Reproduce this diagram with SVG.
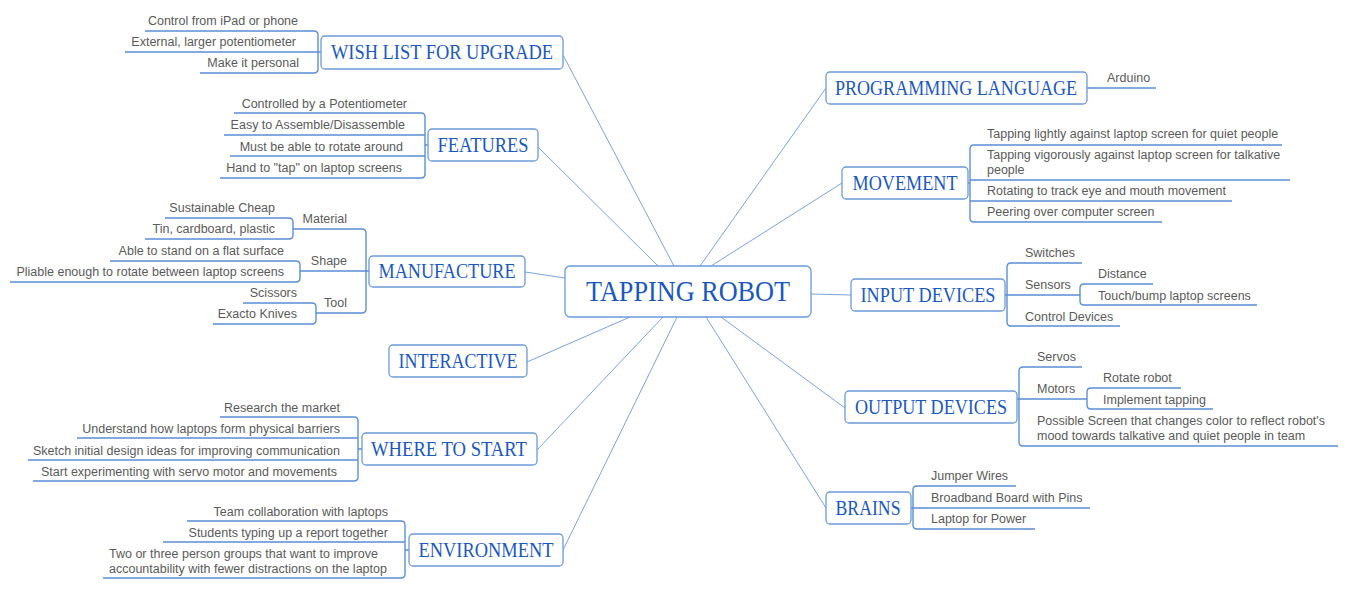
<svg xmlns="http://www.w3.org/2000/svg" width="1348" height="590" viewBox="0 0 1348 590">
<style>
.bg{fill:#ffffff}
.box{fill:#ffffff;stroke:#6b9bd9;stroke-width:1.3}
.topic{font-family:"Liberation Serif","Times New Roman",serif;font-size:20px;fill:#1a58c0;text-anchor:middle}
.central{font-family:"Liberation Serif","Times New Roman",serif;font-size:29px;fill:#1a58c0;text-anchor:middle}
.t{font-family:"Liberation Sans",Arial,sans-serif;font-size:12.5px;fill:#5a5a5a}
.r{text-anchor:end}
.u{fill:none;stroke:#5b8fd6;stroke-width:1.4}
.c{fill:none;stroke:#7aa3de;stroke-width:1}
</style>
<rect class="bg" x="0" y="0" width="1348" height="590"/>
<g id="connectors">
<line class="c" x1="563" y1="55" x2="674" y2="266"/>
<line class="c" x1="538" y1="147" x2="658" y2="266"/>
<line class="c" x1="525" y1="272" x2="565" y2="278"/>
<line class="c" x1="527" y1="362" x2="630" y2="317"/>
<line class="c" x1="537" y1="450" x2="663" y2="317"/>
<line class="c" x1="563" y1="550" x2="677" y2="317"/>
<line class="c" x1="826" y1="88" x2="700" y2="266"/>
<line class="c" x1="842" y1="183" x2="711" y2="266"/>
<line class="c" x1="811" y1="294" x2="851" y2="295"/>
<line class="c" x1="845" y1="408" x2="721" y2="317"/>
<line class="c" x1="826" y1="508" x2="706" y2="317"/>
</g>
<g id="central">
<rect class="box" x="565" y="266" width="246" height="51" rx="5"/>
<text class="central" x="688" y="301" textLength="204" lengthAdjust="spacingAndGlyphs">TAPPING ROBOT</text>
</g>
<g id="wishlist">
<path class="u" d="M145,31 H314 Q318,31 318,35 V69 Q318,73 314,73 H200 M125,52 H321"/>
<rect class="box" x="321" y="36" width="242" height="33" rx="4"/>
<text class="topic" x="442" y="59" textLength="222" lengthAdjust="spacingAndGlyphs">WISH LIST FOR UPGRADE</text>
<text class="t r" x="298" y="25">Control from iPad or phone</text>
<text class="t r" x="296" y="46">External, larger potentiometer</text>
<text class="t r" x="299" y="67">Make it personal</text>
</g>
<g id="features">
<path class="u" d="M234,113 H421 Q425,113 425,117 V174 Q425,178 421,178 H220 M224,135 H425 M230,156 H425 M425,145 H428"/>
<rect class="box" x="428" y="129" width="110" height="32" rx="4"/>
<text class="topic" x="483" y="152" textLength="91" lengthAdjust="spacingAndGlyphs">FEATURES</text>
<text class="t r" x="407" y="108">Controlled by a Potentiometer</text>
<text class="t r" x="405" y="129">Easy to Assemble/Disassemble</text>
<text class="t r" x="403" y="151">Must be able to rotate around</text>
<text class="t r" x="402" y="172">Hand to "tap" on laptop screens</text>
</g>
<g id="manufacture">
<path class="u" d="M293,229 H362 Q366,229 366,233 V309 Q366,313 362,313 H316 M300,271 H369"/>
<path class="u" d="M165,218 H289 Q293,218 293,222 V235 Q293,239 289,239 H145"/>
<path class="u" d="M110,261 H296 Q300,261 300,265 V278 Q300,282 296,282 H10"/>
<path class="u" d="M243,303 H312 Q316,303 316,307 V320 Q316,324 312,324 H213"/>
<rect class="box" x="369" y="256" width="156" height="31" rx="4"/>
<text class="topic" x="447" y="278" textLength="137" lengthAdjust="spacingAndGlyphs">MANUFACTURE</text>
<text class="t r" x="347" y="223">Material</text>
<text class="t r" x="347" y="265">Shape</text>
<text class="t r" x="347" y="307">Tool</text>
<text class="t r" x="275" y="212">Sustainable Cheap</text>
<text class="t r" x="275" y="233">Tin, cardboard, plastic</text>
<text class="t r" x="284" y="255">Able to stand on a flat surface</text>
<text class="t r" x="284" y="276">Pliable enough to rotate between laptop screens</text>
<text class="t r" x="297" y="297">Scissors</text>
<text class="t r" x="297" y="318">Exacto Knives</text>
</g>
<g id="interactive">
<rect class="box" x="389" y="345" width="138" height="32" rx="4"/>
<text class="topic" x="458" y="368" textLength="119" lengthAdjust="spacingAndGlyphs">INTERACTIVE</text>
</g>
<g id="wheretostart">
<path class="u" d="M220,417 H354 Q358,417 358,421 V477 Q358,481 354,481 H33 M77,438 H358 M28,460 H358 M358,449 H362"/>
<rect class="box" x="362" y="433" width="175" height="32" rx="4"/>
<text class="topic" x="449" y="456" textLength="156" lengthAdjust="spacingAndGlyphs">WHERE TO START</text>
<text class="t r" x="340" y="412">Research the market</text>
<text class="t r" x="340" y="433">Understand how laptops form physical barriers</text>
<text class="t r" x="340" y="455">Sketch initial design ideas for improving communication</text>
<text class="t r" x="337" y="476">Start experimenting with servo motor and movements</text>
</g>
<g id="environment">
<path class="u" d="M187,521 H401 Q405,521 405,525 V574 Q405,578 401,578 H103 M163,542 H405 M405,550 H409"/>
<rect class="box" x="409" y="534" width="154" height="32" rx="4"/>
<text class="topic" x="486" y="557" textLength="135" lengthAdjust="spacingAndGlyphs">ENVIRONMENT</text>
<text class="t r" x="388" y="516">Team collaboration with laptops</text>
<text class="t r" x="388" y="537">Students typing up a report together</text>
<text class="t" x="109" y="558">Two or three person groups that want to improve</text>
<text class="t" x="109" y="573">accountability with fewer distractions on the laptop</text>
</g>
<g id="programming">
<path class="u" d="M1087,88 H1156"/>
<rect class="box" x="826" y="72" width="261" height="32" rx="4"/>
<text class="topic" x="956" y="95" textLength="242" lengthAdjust="spacingAndGlyphs">PROGRAMMING LANGUAGE</text>
<text class="t" x="1107" y="82">Arduino</text>
</g>
<g id="movement">
<path class="u" d="M1282,145 H974 Q970,145 970,149 V218 Q970,222 974,222 H1162 M970,180 H1290 M970,201 H1232 M968,183 H970"/>
<rect class="box" x="842" y="167" width="126" height="32" rx="4"/>
<text class="topic" x="905" y="190" textLength="105" lengthAdjust="spacingAndGlyphs">MOVEMENT</text>
<text class="t" x="987" y="138">Tapping lightly against laptop screen for quiet people</text>
<text class="t" x="987" y="159">Tapping vigorously against laptop screen for talkative</text>
<text class="t" x="987" y="174">people</text>
<text class="t" x="987" y="195">Rotating to track eye and mouth movement</text>
<text class="t" x="987" y="216">Peering over computer screen</text>
</g>
<g id="input">
<path class="u" d="M1082,263 H1011 Q1007,263 1007,267 V322 Q1007,326 1011,326 H1120 M1005,295 H1080"/>
<path class="u" d="M1153,284 H1084 Q1080,284 1080,288 V301 Q1080,305 1084,305 H1257"/>
<rect class="box" x="851" y="279" width="154" height="32" rx="4"/>
<text class="topic" x="928" y="302" textLength="135" lengthAdjust="spacingAndGlyphs">INPUT DEVICES</text>
<text class="t" x="1025" y="257">Switches</text>
<text class="t" x="1025" y="289">Sensors</text>
<text class="t" x="1025" y="321">Control Devices</text>
<text class="t" x="1098" y="278">Distance</text>
<text class="t" x="1098" y="300">Touch/bump laptop screens</text>
</g>
<g id="output">
<path class="u" d="M1082,367 H1023 Q1019,367 1019,371 V442 Q1019,446 1023,446 H1338 M1017,399 H1087"/>
<path class="u" d="M1181,388 H1091 Q1087,388 1087,392 V405 Q1087,409 1091,409 H1213"/>
<rect class="box" x="845" y="391" width="172" height="32" rx="4"/>
<text class="topic" x="931" y="414" textLength="152" lengthAdjust="spacingAndGlyphs">OUTPUT DEVICES</text>
<text class="t" x="1037" y="361">Servos</text>
<text class="t" x="1037" y="393">Motors</text>
<text class="t" x="1103" y="382">Rotate robot</text>
<text class="t" x="1103" y="404">Implement tapping</text>
<text class="t" x="1037" y="425">Possible Screen that changes color to reflect robot's</text>
<text class="t" x="1037" y="440">mood towards talkative and quiet people in team</text>
</g>
<g id="brains">
<path class="u" d="M1016,486 H917 Q913,486 913,490 V525 Q913,529 917,529 H1035 M911,508 H1090"/>
<rect class="box" x="826" y="492" width="85" height="32" rx="4"/>
<text class="topic" x="868" y="515" textLength="65" lengthAdjust="spacingAndGlyphs">BRAINS</text>
<text class="t" x="931" y="480">Jumper Wires</text>
<text class="t" x="931" y="502">Broadband Board with Pins</text>
<text class="t" x="931" y="523">Laptop for Power</text>
</g>
</svg>
